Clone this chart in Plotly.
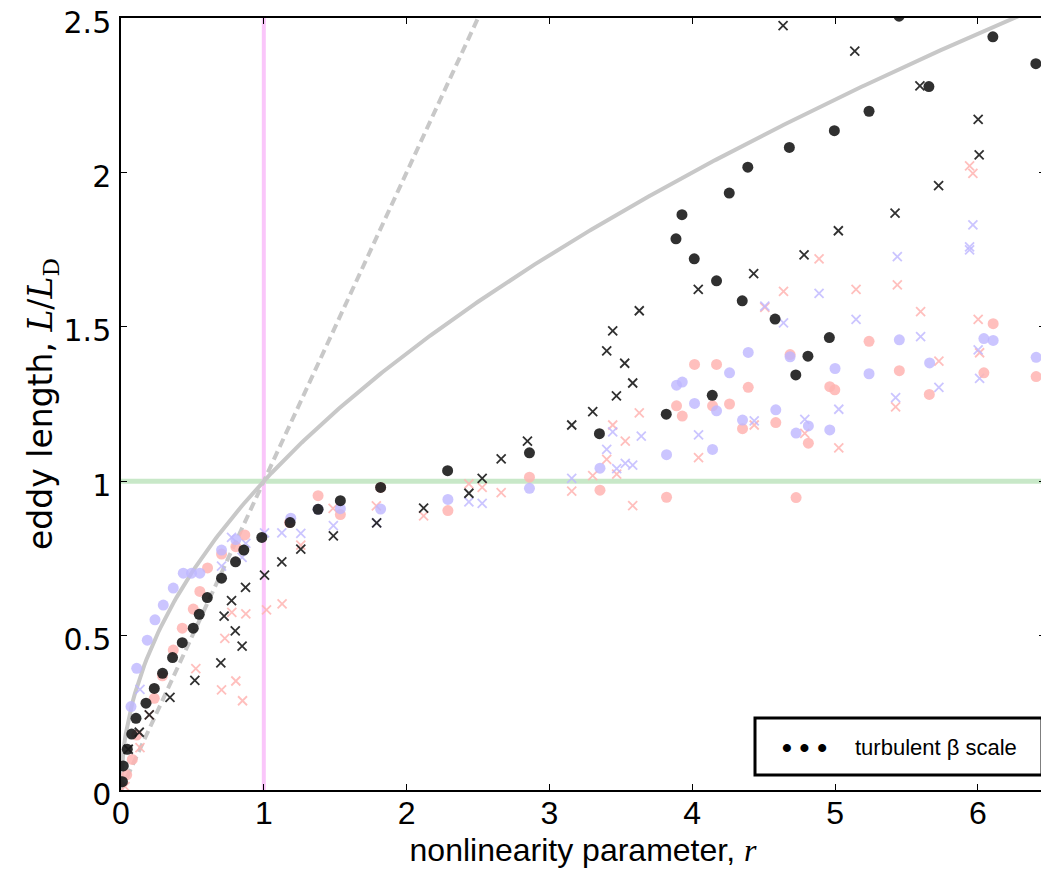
import numpy as np
import plotly.graph_objects as go

# ---------------- data ----------------
black_dot_x = [0.01, 0.016, 0.044, 0.075, 0.105, 0.175, 0.233, 0.291, 0.361, 0.429, 0.506, 0.548,
               0.604, 0.704, 0.802, 0.86, 0.986, 1.184, 1.38, 1.536, 1.818, 2.287, 2.86, 3.35,
               3.818, 3.886, 3.928, 4.014, 4.14, 4.17, 4.259, 4.35, 4.389, 4.58, 4.68, 4.725,
               4.81, 4.96, 4.995, 5.238, 5.448, 5.657, 6.105, 6.406]
black_dot_y = [0.027, 0.078, 0.132, 0.181, 0.232, 0.281, 0.329, 0.378, 0.429, 0.477, 0.524, 0.569,
               0.623, 0.686, 0.739, 0.777, 0.818, 0.866, 0.909, 0.937, 0.98, 1.034, 1.092, 1.154,
               1.217, 1.785, 1.863, 1.72, 1.278, 1.649, 1.933, 1.584, 2.017, 1.525, 2.081, 1.344,
               1.405, 1.465, 2.135, 2.198, 2.506, 2.278, 2.439, 2.352]

black_x_x = [0.051, 0.128, 0.198, 0.343, 0.517, 0.699, 0.722, 0.774, 0.8, 0.848, 0.872, 1.005,
             1.126, 1.259, 1.487, 1.79, 2.119, 2.436, 2.529, 2.662, 2.846, 3.156, 3.303, 3.401,
             3.443, 3.469, 3.527, 3.583, 3.629, 4.042, 4.43, 4.783, 5.023, 5.42, 5.725, 6.009,
             6.002, 5.594, 5.138, 4.636]
black_x_y = [0.132, 0.187, 0.243, 0.30, 0.355, 0.412, 0.563, 0.613, 0.515, 0.466, 0.656, 0.696,
             0.739, 0.78, 0.823, 0.865, 0.913, 0.961, 1.009, 1.072, 1.13, 1.182, 1.225, 1.422,
             1.487, 1.276, 1.382, 1.318, 1.552, 1.621, 1.672, 1.733, 1.811, 1.868, 1.957, 2.057,
             2.172, 2.28, 2.393, 2.475]

pink_dot_x = [0.04, 0.079, 0.11, 0.233, 0.29, 0.366, 0.429, 0.506, 0.552, 0.606, 0.704, 0.804,
              0.867, 1.18, 1.38, 1.536, 1.818, 2.289, 2.86, 3.354, 3.82, 4.727, 3.89, 3.93,
              4.016, 4.17, 4.142, 4.261, 4.352, 4.392, 4.585, 4.685, 4.813, 4.963, 4.998, 5.238,
              5.45, 5.66, 6.042, 6.107, 6.408]
pink_dot_y = [0.049, 0.099, 0.178, 0.297, 0.37, 0.453, 0.524, 0.586, 0.643, 0.719, 0.764, 0.788,
              0.826, 0.866, 0.953, 0.892, 0.98, 0.905, 1.013, 0.971, 0.948, 0.947, 1.244, 1.211,
              1.378, 1.378, 1.244, 1.25, 1.17, 1.304, 1.19, 1.41, 1.123, 1.306, 1.296, 1.453,
              1.358, 1.281, 1.351, 1.51, 1.339]

lav_dot_x = [0.07, 0.11, 0.184, 0.238, 0.296, 0.366, 0.436, 0.494, 0.552, 0.704, 0.804, 1.189,
             1.38, 1.536, 1.818, 2.289, 2.86, 3.354, 3.82, 3.89, 3.93, 4.016, 4.142, 4.17,
             4.261, 4.352, 4.392, 4.585, 4.685, 4.727, 4.813, 4.963, 5.0, 5.238, 5.45, 5.662,
             6.042, 6.107, 6.408]
lav_dot_y = [0.27, 0.394, 0.485, 0.551, 0.599, 0.654, 0.702, 0.702, 0.702, 0.777, 0.811, 0.88,
             0.909, 0.911, 0.91, 0.941, 0.977, 1.042, 1.086, 1.311, 1.321, 1.252, 1.103, 1.228,
             1.351, 1.198, 1.417, 1.231, 1.403, 1.156, 1.179, 1.166, 1.365, 1.348, 1.458, 1.383,
             1.462, 1.456, 1.401]

pink_x_x = [0.028, 0.133, 0.198, 0.524, 0.704, 0.727, 0.776, 0.804, 0.851, 0.874, 1.019, 1.128,
            1.259, 1.485, 1.788, 2.119, 2.436, 2.529, 2.662, 3.156, 3.303, 3.401, 3.443, 3.471,
            3.531, 3.583, 3.629, 4.044, 4.434, 4.508, 4.639, 4.788, 4.888, 5.026, 5.147, 5.424,
            5.436, 5.599, 5.727, 6.002, 6.012, 5.942, 5.965]
pink_x_y = [0.011, 0.137, 0.243, 0.393, 0.324, 0.491, 0.575, 0.353, 0.289, 0.57, 0.583, 0.603,
            0.793, 0.912, 0.92, 0.888, 0.991, 0.98, 0.963, 0.968, 1.018, 1.071, 1.182, 1.023,
            1.13, 0.921, 1.221, 1.076, 1.182, 1.563, 1.615, 1.155, 1.72, 1.108, 1.621, 1.241,
            1.636, 1.549, 1.389, 1.524, 1.416, 2.021, 1.997]

lav_x_x = [0.133, 0.704, 0.774, 0.848, 0.874, 1.005, 1.126, 1.259, 1.487, 1.79, 2.436, 2.529,
           3.156, 3.401, 3.443, 3.471, 3.531, 3.583, 3.643, 4.044, 4.434, 4.508, 4.639, 4.788,
           4.888, 5.026, 5.147, 5.424, 5.436, 5.599, 5.727, 6.002, 6.012, 5.942, 5.965, 5.942]
lav_x_y = [0.326, 0.725, 0.818, 0.753, 0.799, 0.833, 0.833, 0.831, 0.856, 0.865, 0.933, 0.928,
           1.009, 1.103, 1.16, 1.041, 1.058, 1.052, 1.146, 1.15, 1.195, 1.567, 1.513, 1.2,
           1.608, 1.233, 1.524, 1.271, 1.727, 1.468, 1.304, 1.425, 1.333, 1.749, 1.83, 1.759]

x_range = [0, 6.47]
y_range = [0, 2.5]
x_ticks = [0, 1, 2, 3, 4, 5, 6]
y_ticks = [0, 0.5, 1, 1.5, 2, 2.5]
y_ticklabels = ["0", "0.5", "1", "1.5", "2", "2.5"]

# theory curves
r_grid = np.linspace(0, x_range[1], 400)
sqrt_curve = np.sqrt(r_grid)
lin_r = np.array([0, 2.5])

PINK = "rgba(255,180,178,0.85)"
LAV = "rgba(190,182,255,0.8)"
BLACK = "rgba(25,25,25,0.9)"
GRAY = "rgb(200,200,200)"

fig = go.Figure()

# reference lines
fig.add_trace(go.Scatter(x=x_range, y=[1, 1], mode="lines",
                         line=dict(color="rgb(200,232,200)", width=5), hoverinfo="skip"))
fig.add_trace(go.Scatter(x=[1, 1], y=y_range, mode="lines",
                         line=dict(color="rgb(250,198,250)", width=4), hoverinfo="skip"))
fig.add_trace(go.Scatter(x=r_grid, y=sqrt_curve, mode="lines",
                         line=dict(color=GRAY, width=4)))
fig.add_trace(go.Scatter(x=lin_r, y=lin_r, mode="lines",
                         line=dict(color=GRAY, width=4, dash="9px,5px")))

fig.add_trace(go.Scatter(x=pink_x_x, y=pink_x_y, mode="markers",
                         marker=dict(symbol="x-thin", color=PINK, size=9,
                                     line=dict(width=1.8, color=PINK))))
fig.add_trace(go.Scatter(x=lav_x_x, y=lav_x_y, mode="markers",
                         marker=dict(symbol="x-thin", color=LAV, size=9,
                                     line=dict(width=1.8, color=LAV))))
fig.add_trace(go.Scatter(x=pink_dot_x, y=pink_dot_y, mode="markers",
                         marker=dict(symbol="circle", color=PINK, size=11)))
fig.add_trace(go.Scatter(x=lav_dot_x, y=lav_dot_y, mode="markers",
                         marker=dict(symbol="circle", color=LAV, size=11)))
fig.add_trace(go.Scatter(x=black_x_x, y=black_x_y, mode="markers",
                         marker=dict(symbol="x-thin", color=BLACK, size=9,
                                     line=dict(width=1.8, color=BLACK))))
fig.add_trace(go.Scatter(x=black_dot_x, y=black_dot_y, mode="markers",
                         marker=dict(symbol="circle", color=BLACK, size=11)))

axis_common = dict(showgrid=False, zeroline=False, showline=True, linecolor="black",
                   linewidth=1.5, mirror="ticks", ticks="inside", ticklen=6, tickcolor="black",
                   tickwidth=1, automargin=False, ticklabeloverflow="allow")

fig.update_layout(
    width=1049, height=889,
    paper_bgcolor="white", plot_bgcolor="white",
    margin=dict(l=113, r=12, t=10, b=107),
    showlegend=False,
    font=dict(family="Liberation Sans, Arial, sans-serif", color="black"),
    xaxis=dict(range=x_range, tickvals=x_ticks, ticktext=[str(t) for t in x_ticks],
               tickfont=dict(size=32), ticklabelstandoff=-6,
               title=dict(text="nonlinearity parameter, <span style='font-family:Liberation Serif'><i>r</i></span>",
                          font=dict(size=32), standoff=8),
               **axis_common),
    yaxis=dict(range=y_range, tickvals=y_ticks, ticktext=y_ticklabels,
               tickfont=dict(size=30, family="DejaVu Sans"), ticklabelstandoff=2,
               ticklabelshift=4,
               title=dict(text="eddy length, <span style='font-family:DejaVu Serif'><i>L</i>/<i>L</i><sub>D</sub></span>",
                          font=dict(size=33, family="DejaVu Sans"), standoff=0),
               **axis_common),
)

# legend box (decoration)
fig.add_shape(type="rect", xref="paper", yref="paper",
              x0=(755 - 121) / 924, x1=(1042 - 121) / 924,
              y0=(790 - 775) / 772, y1=(790 - 718) / 772,
              line=dict(color="black", width=3), fillcolor="white", layer="above")
fig.add_annotation(xref="paper", yref="paper", x=(804 - 121) / 924, y=(790 - 747) / 772,
                   text="<b>•</b> <b>•</b> <b>•</b>", showarrow=False, xanchor="center",
                   yanchor="middle", font=dict(size=28, color="black"))
fig.add_annotation(xref="paper", yref="paper", x=(853 - 121) / 924, y=(790 - 747) / 772,
                   text="turbulent β scale", showarrow=False, xanchor="left",
                   yanchor="middle", font=dict(size=22, color="black"))

fig.write_html("out.html")
